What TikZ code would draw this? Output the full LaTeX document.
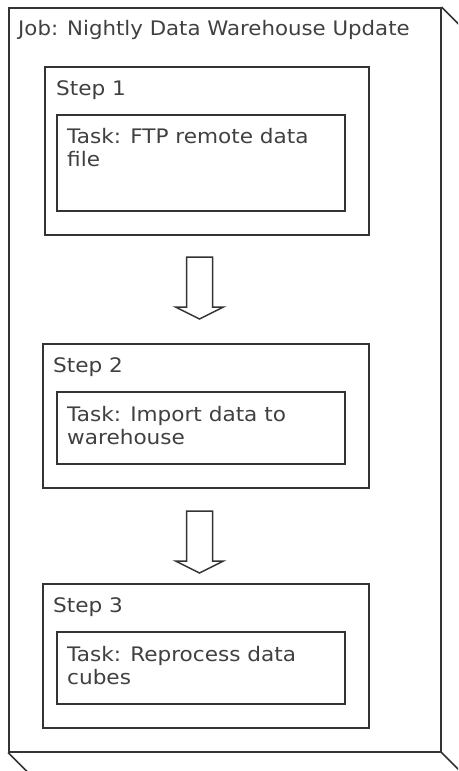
\documentclass[tikz,border=0pt]{standalone}
\usepackage{fontspec}
\setmainfont{DejaVu Sans}[FakeStretch=1.08]
\newfontfamily\titlefont{DejaVu Sans}[FakeStretch=1.065]
\definecolor{linegray}{HTML}{333333}
\definecolor{textgray}{HTML}{404040}
\tikzset{
  box/.style={draw=linegray, line width=1.5pt, inner sep=0pt, anchor=north west},
  boxtext/.style={anchor=base west, inner sep=0pt, text=textgray, font=\fontsize{20}{23}\selectfont, align=left},
  blockarrow/.pic={
    \draw[linegray, line width=1.5pt] (-13,0) -- (13,0) -- (13,50) -- (24,50) -- (0,62) -- (-24,50) -- (-13,50) -- cycle;
  }
}
\begin{document}
\begin{tikzpicture}[x=1pt,y=-1pt]
\useasboundingbox (0,0) rectangle (458,771);
\clip (0,0) rectangle (458,771);
\node[box, minimum width=432pt, minimum height=744pt] (job) at (8,7) {};
\draw[linegray, line width=1.5pt] (job.north east) -- +(20,20);
\draw[linegray, line width=1.5pt] (job.south west) -- +(20,20);
\draw[linegray, line width=1.5pt] (job.south east) -- +(20,20);
\node[boxtext] (jobtitle) at ([shift={(10,28)}]job.north west) {\titlefont Job: Nightly Data Warehouse Update};

\node[box, minimum width=324pt, minimum height=168pt] (step1) at (44,66) {};
\node[boxtext] (step1title) at ([shift={(12,29)}]step1.north west) {Step 1};
\node[box, minimum width=288pt, minimum height=96pt] (task1) at (56,114) {};
\node[boxtext] (task1text) at ([shift={(11,52)}]task1.north west) {Task: FTP remote data\\file};

\node[box, minimum width=326pt, minimum height=144pt] (step2) at (42,343) {};
\node[boxtext] (step2title) at ([shift={(11,29)}]step2.north west) {Step 2};
\node[box, minimum width=288pt, minimum height=72pt] (task2) at (56,391) {};
\node[boxtext] (task2text) at ([shift={(11,53)}]task2.north west) {Task: Import data to\\warehouse};

\node[box, minimum width=326pt, minimum height=144pt] (step3) at (42,583) {};
\node[boxtext] (step3title) at ([shift={(11,29)}]step3.north west) {Step 3};
\node[box, minimum width=288pt, minimum height=72pt] (task3) at (56,631) {};
\node[boxtext] (task3text) at ([shift={(11,53)}]task3.north west) {Task: Reprocess data\\cubes};

\pic at (199.5,257) {blockarrow};
\pic at (199.5,511) {blockarrow};
\end{tikzpicture}
\end{document}
